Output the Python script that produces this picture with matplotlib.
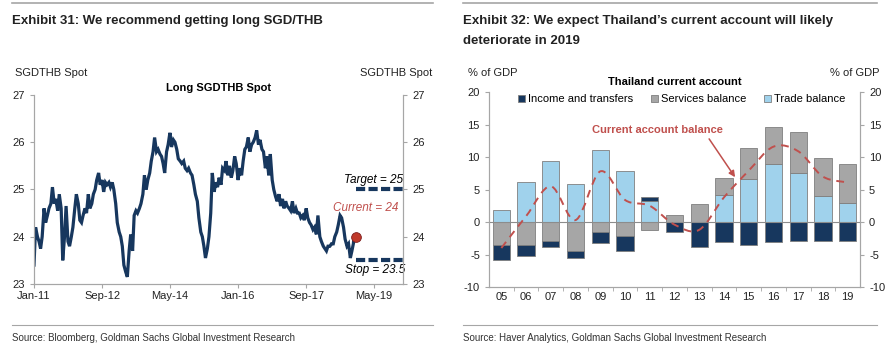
import matplotlib
matplotlib.use("Agg")
import matplotlib.pyplot as plt
import numpy as np
import pandas as pd
from matplotlib.path import Path
from matplotlib.patches import PathPatch

plt.rcParams['font.family'] = ['Liberation Sans', 'DejaVu Sans']
plt.rcParams['axes.unicode_minus'] = False
NARROW = ['Liberation Sans Narrow', 'Liberation Sans', 'DejaVu Sans']

# SGDTHB spot, semi-monthly from Jan-11
spot = [23.4, 24.2, 24.0, 23.9, 23.75, 24.0, 24.6, 24.3, 24.45, 24.6,
        24.7, 25.05, 24.7, 24.8, 24.55, 24.9, 24.6, 23.5, 24.0, 24.65,
        23.9, 23.8, 24.0, 24.2, 24.6, 24.9, 24.7, 24.35, 24.3, 24.45,
        24.6, 24.5, 24.9, 24.6, 24.7, 24.9, 25.0, 25.2, 25.35, 25.1,
        25.2, 24.95, 25.15, 25.1, 25.15, 25.05, 25.15, 25.0, 24.7, 24.3,
        24.1, 24.0, 23.8, 23.4, 23.25, 23.15, 23.7, 24.05, 23.7, 24.45,
        24.55, 24.5, 24.6, 24.7, 24.9, 25.3, 25.0, 25.2, 25.35, 25.6,
        25.8, 26.1, 25.8, 25.85, 25.75, 25.7, 25.55, 25.35, 25.8, 25.95,
        26.2, 25.9, 26.05, 26.0, 25.85, 25.65, 25.6, 25.55, 25.6, 25.45,
        25.4, 25.45, 25.35, 25.3, 25.1, 24.9, 24.75, 24.4, 24.1, 24.0,
        23.8, 23.55, 23.75, 24.0, 24.5, 25.35, 24.95, 25.15, 25.05, 25.25,
        25.1, 25.45, 25.4, 25.6, 25.3, 25.5, 25.25, 25.4, 25.7, 25.55,
        25.2, 25.45, 25.3, 25.6, 25.85, 25.9, 26.1, 25.8, 25.95, 26.0,
        26.1, 26.25, 25.95, 26.05, 25.85, 25.8, 25.45, 25.7, 25.3, 25.75,
        25.2, 25.0, 24.85, 24.75, 24.9, 24.65, 24.8, 24.6, 24.75, 24.65,
        24.6, 24.55, 24.75, 24.5, 24.6, 24.5, 24.5, 24.4, 24.45, 24.35,
        24.6, 24.4, 24.3, 24.25, 24.15, 24.2, 24.05, 24.45, 24.0, 23.9,
        23.8, 23.75, 23.7, 23.8, 23.8, 23.85, 23.85, 24.0, 24.1, 24.25,
        24.45, 24.4, 24.2, 23.95, 23.8, 23.85, 23.55, 23.7, 23.9]
spot_dates = pd.date_range('2011-01-01', periods=len(spot), freq='SMS')
current_date = pd.Timestamp('2018-11-20')
current = 24.0
target = 25.0
stop = 23.5
date_ticks = ['2011-01-01', '2012-09-01', '2014-05-01', '2016-01-01', '2017-09-01', '2019-05-01']
date_labels = ['Jan-11', 'Sep-12', 'May-14', 'Jan-16', 'Sep-17', 'May-19']

# Thailand current account, % of GDP
years = ['05', '06', '07', '08', '09', '10', '11', '12', '13', '14', '15', '16', '17', '18', '19']
trade = [1.8, 6.1, 9.4, 5.9, 11.1, 7.9, 3.3, 0.0, 0.0, 4.1, 6.6, 8.9, 7.5, 4.0, 2.9]
services = [-3.6, -3.6, -2.9, -4.4, -1.5, -2.1, -1.3, 1.1, 2.7, 2.7, 4.8, 5.8, 6.3, 5.9, 6.1]
income = [-2.2, -1.6, -1.0, -1.2, -1.8, -2.4, 0.5, -1.5, -3.9, -3.0, -3.5, -3.1, -2.9, -2.9, -2.9]

NAVY = '#17375e'
GREY_AX = '#a6a6a6'
RED = '#c0504d'

fig = plt.figure(figsize=(8.9, 3.48), dpi=100)


def style_axes(ax, twin):
    ax.spines['top'].set_visible(False)
    twin.spines['top'].set_visible(False)
    for a in (ax, twin):
        for s in ['left', 'right', 'bottom']:
            a.spines[s].set_color(GREY_AX)
            a.spines[s].set_linewidth(0.8)
        a.tick_params(colors=GREY_AX, labelcolor='#222222', labelsize=8, length=3, width=0.8)


# ---- left panel: SGDTHB ----
ax1 = fig.add_axes([0.0382, 0.184, 0.4146, 0.543])
ax1.plot(spot_dates, spot, color=NAVY, lw=2.3, solid_joinstyle='miter')
ax1.plot([spot_dates[-1], current_date], [spot[-1], current], color=NAVY, lw=2.3)
ax1.plot(current_date, current, 'o', ms=7, color='#c0392b', mec='#7b1c1c', mew=0.6, zorder=5)
xend = pd.Timestamp('2020-01-15')
ax1.plot([current_date, xend], [target, target], color=NAVY, lw=3, dashes=(2.2, 0.8))
ax1.plot([current_date, xend], [stop, stop], color=NAVY, lw=3, dashes=(2.2, 0.8))
ax1.text(xend, target + 0.08, 'Target = 25', ha='right', va='bottom', style='italic', fontsize=8.5)
ax1.text(pd.Timestamp('2019-12-01'), 24.6, 'Current = 24', ha='right', va='center', style='italic',
         fontsize=8.5, color=RED)
ax1.text(pd.Timestamp('2020-02-01'), stop - 0.08, 'Stop = 23.5', ha='right', va='top', style='italic', fontsize=8.5)
ax1.set_xlim(pd.Timestamp('2011-01-01'), xend)
ax1.set_ylim(23, 27)
ax1.set_yticks([23, 24, 25, 26, 27])
ax1.set_xticks(pd.to_datetime(date_ticks))
ax1.set_xticklabels(date_labels)
ax1.tick_params(axis='x', pad=2)
ax1r = ax1.twinx()
ax1r.set_ylim(23, 27)
ax1r.set_yticks([23, 24, 25, 26, 27])
style_axes(ax1, ax1r)
ax1.set_title('Long SGDTHB Spot', fontsize=8, fontweight='bold', pad=3)
fig.text(0.017, 0.782, 'SGDTHB Spot', fontsize=8, color='#222222')
fig.text(0.486, 0.782, 'SGDTHB Spot', fontsize=8, color='#222222', ha='right')

# ---- right panel: current account ----
ax2 = fig.add_axes([0.5494, 0.1753, 0.4169, 0.560])
x = np.arange(len(years))
trade = np.array(trade)
services = np.array(services)
income = np.array(income)
w = 0.7
edge = dict(edgecolor='#7f7f7f', linewidth=0.6)
# stack positives upward and negatives downward
pos = np.zeros(len(x))
neg = np.zeros(len(x))
handles = []
for vals, col, lab in [(trade, '#a0d2ec', 'Trade balance'),
                       (services, '#a6a6a6', 'Services balance'),
                       (income, NAVY, 'Income and transfers')]:
    base = np.where(vals >= 0, pos, neg)
    b = ax2.bar(x, vals, w, bottom=base, color=col, label=lab, **edge)
    handles.append(b)
    pos = pos + np.where(vals >= 0, vals, 0)
    neg = neg + np.where(vals < 0, vals, 0)
ca = trade + services + income


def smooth_path(xs, ys):
    verts = [(xs[0], ys[0])]
    codes = [Path.MOVETO]
    n = len(xs)
    for i in range(n - 1):
        j0 = max(i - 1, 0)
        j3 = min(i + 2, n - 1)
        c1 = (xs[i] + (xs[i + 1] - xs[j0]) / 6, ys[i] + (ys[i + 1] - ys[j0]) / 6)
        c2 = (xs[i + 1] - (xs[j3] - xs[i]) / 6, ys[i + 1] - (ys[j3] - ys[i]) / 6)
        verts += [c1, c2, (xs[i + 1], ys[i + 1])]
        codes += [Path.CURVE4] * 3
    return Path(verts, codes)


ax2.add_patch(PathPatch(smooth_path(x, ca), fill=False, edgecolor=RED, lw=1.4,
                        linestyle=(0, (4, 3)), zorder=4))
ax2.axhline(0, color='#8c8c8c', lw=0.8, zorder=3)
ax2.text(6.3, 14.2, 'Current account balance', ha='center', va='center', fontsize=8,
         fontweight='bold', color=RED)
ax2.annotate('', xy=(9.45, 6.9), xytext=(8.4, 12.8),
             arrowprops=dict(arrowstyle='-|>', color=RED, lw=1.1, shrinkA=0, shrinkB=0,
                             mutation_scale=9))
ax2.set_xlim(-0.5, 14.5)
ax2.set_ylim(-10, 20)
ax2.set_yticks(range(-10, 21, 5))
ax2.set_xticks(x)
ax2.set_xticklabels(years)
ax2.set_xticks(np.arange(0.5, 14, 1), minor=True)
ax2r = ax2.twinx()
ax2r.set_ylim(-10, 20)
ax2r.set_yticks(range(-10, 21, 5))
style_axes(ax2, ax2r)
ax2.tick_params(axis='x', which='major', length=0)
ax2.tick_params(axis='x', which='minor', length=3, color=GREY_AX)
ax2.legend(handles[::-1], [h.get_label() for h in handles[::-1]], loc='upper center',
           bbox_to_anchor=(0.52, 1.04), ncol=3, frameon=False, fontsize=8,
           handlelength=0.6, handleheight=0.6, handletextpad=0.3, columnspacing=1.6)
ax2.set_title('Thailand current account', fontsize=8, fontweight='bold', pad=5)
fig.text(0.526, 0.782, '% of GDP', fontsize=8, color='#222222')
fig.text(0.988, 0.782, '% of GDP', fontsize=8, color='#222222', ha='right')

# ---- headers and footers ----
for x0, x1 in [(0.013, 0.487), (0.52, 0.985)]:
    fig.add_artist(plt.Line2D([x0, x1], [0.99, 0.99], color='#a6a6a6', lw=1.2))
    fig.add_artist(plt.Line2D([x0, x1], [0.066, 0.066], color='#a6a6a6', lw=0.8))
fig.text(0.013, 0.94, 'Exhibit 31: We recommend getting long SGD/THB', fontsize=9.5,
         fontweight='bold', family=NARROW, va='center', color='#222222')
fig.text(0.52, 0.94, "Exhibit 32: We expect Thailand\u2019s current account will likely",
         fontsize=9.5, fontweight='bold', family=NARROW, va='center', color='#222222')
fig.text(0.52, 0.883, 'deteriorate in 2019', fontsize=9.5, fontweight='bold', family=NARROW,
         va='center', color='#222222')
fig.text(0.013, 0.028, 'Source: Bloomberg, Goldman Sachs Global Investment Research', fontsize=7,
         family=NARROW, va='center', color='#333333')
fig.text(0.52, 0.028, 'Source: Haver Analytics, Goldman Sachs Global Investment Research', fontsize=7,
         family=NARROW, va='center', color='#333333')

fig.savefig('out.png', dpi=100)
